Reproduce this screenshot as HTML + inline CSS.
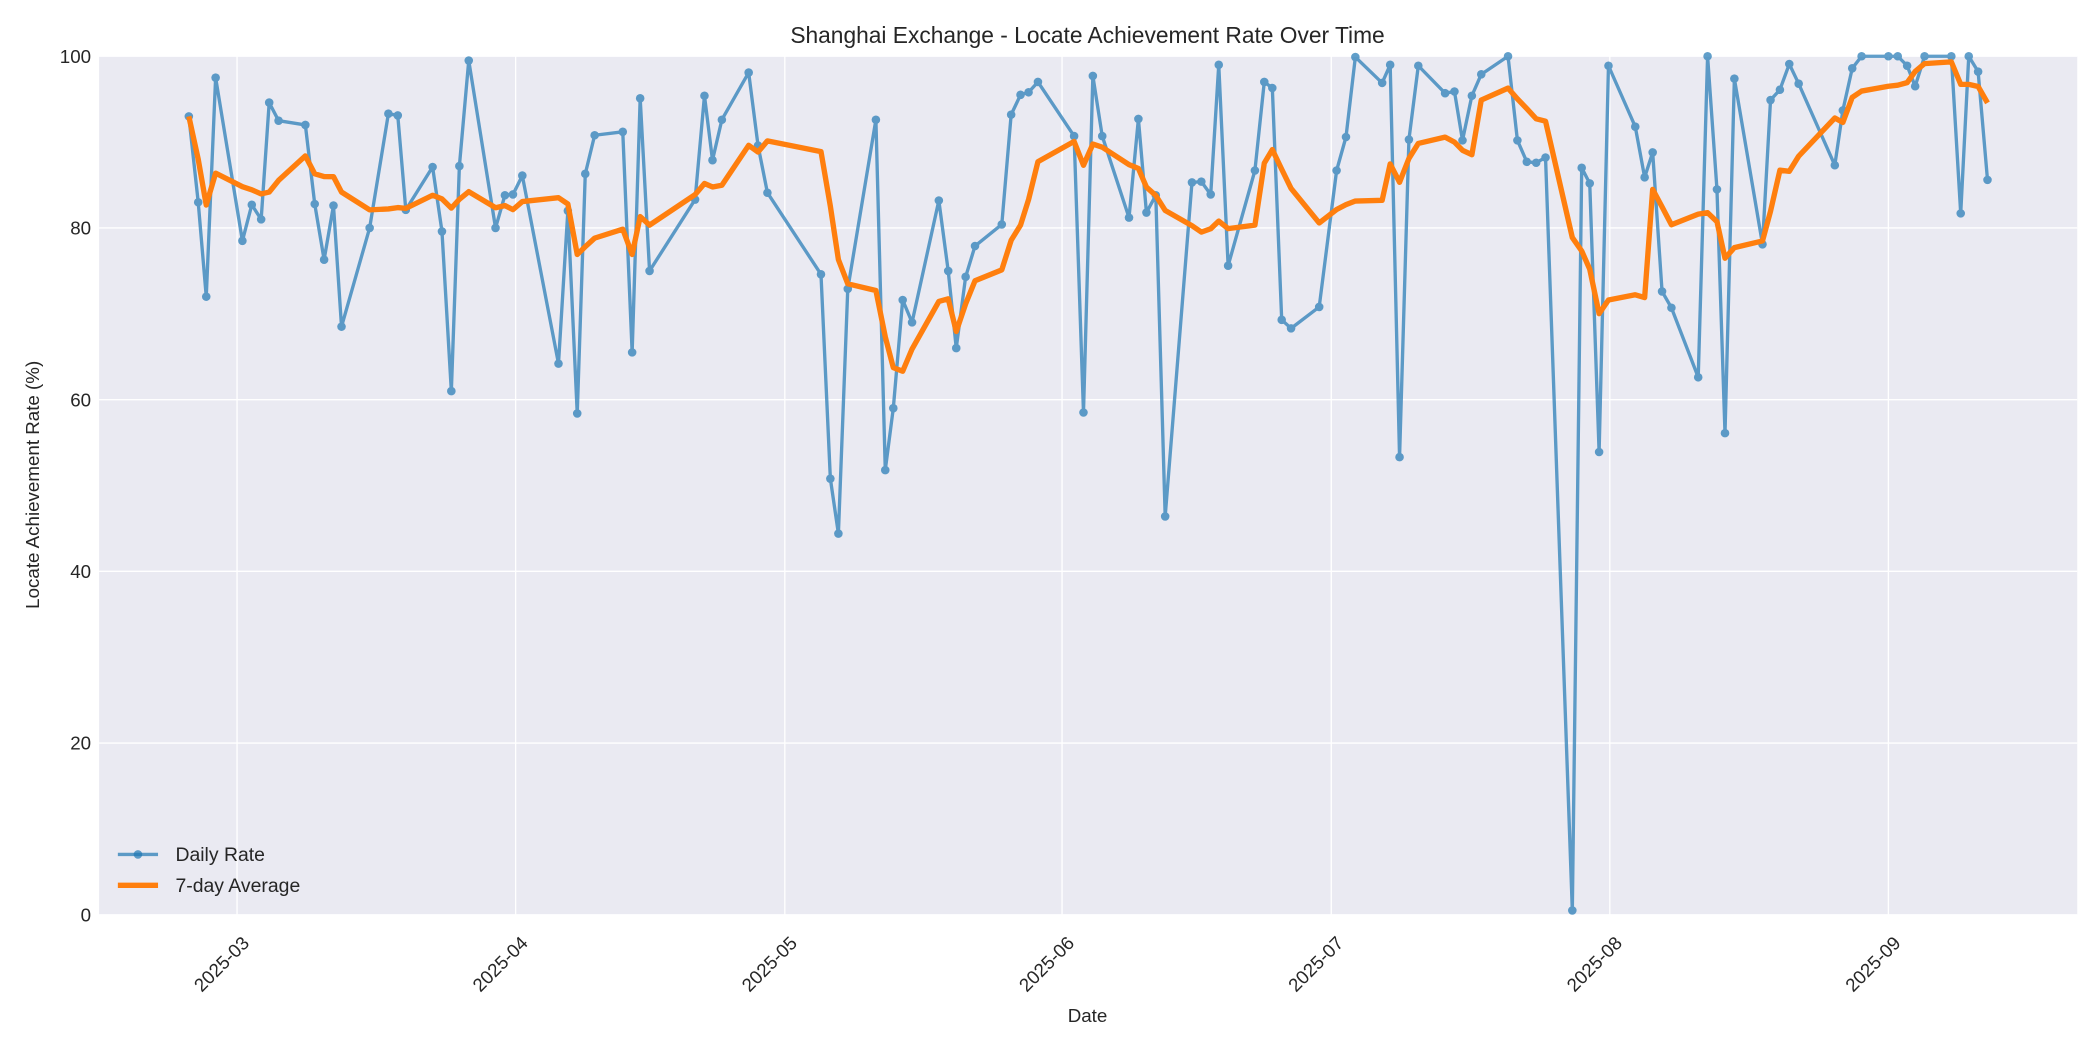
<!DOCTYPE html>
<html><head><meta charset="utf-8"><style>
html,body{margin:0;padding:0;background:#fff;}
svg{display:block;font-family:"Liberation Sans","DejaVu Sans",sans-serif;}
</style></head><body>
<svg id="s" width="2100" height="1050" viewBox="0 0 1568 784" xmlns="http://www.w3.org/2000/svg">
<rect x="0" y="0" width="1568" height="784" fill="#fff"/>
<rect x="74" y="42" width="1477" height="641" fill="#eaeaf2"/>
<g id="grid" stroke="#fff" stroke-width="1"></g>
<g id="series"></g>
<g id="labels" fill="#262626" font-size="14"></g>
<text x="812" y="32" text-anchor="middle" font-size="17" fill="#262626">Shanghai Exchange - Locate Achievement Rate Over Time</text>
<text x="812" y="763" text-anchor="middle" font-size="14" fill="#262626">Date</text>
<text x="29" y="362" text-anchor="middle" font-size="14" fill="#262626" transform="rotate(-90 29 362)">Locate Achievement Rate (%)</text>
<g font-size="14.5" fill="#262626">
<line x1="88" y1="638" x2="118" y2="638" stroke="#1f77b4" stroke-opacity="0.7" stroke-width="2.5"/>
<circle cx="103" cy="638" r="3.2" fill="#1f77b4" fill-opacity="0.7"/>
<text x="131" y="643">Daily Rate</text>
<line x1="88" y1="661" x2="118" y2="661" stroke="#ff7f0e" stroke-width="4"/>
<text x="131" y="666">7-day Average</text>
</g>
</svg>
<script>
const d=[[141,93],[148,83],[154,72],[161,97.5],[181,78.5],[188,82.7],[195,81],[201,94.6],[208,92.5],[228,92],[235,82.8],[242,76.3],[249,82.6],[255,68.5],[276,80],[290,93.3],[297,93.1],[303,82.1],[323,87.1],[330,79.6],[337,61],[343,87.2],[350,99.5],[370,80],[377,83.8],[383,83.9],[390,86.1],[417,64.2],[424,82],[431,58.4],[437,86.3],[444,90.8],[465,91.2],[472,65.5],[478,95.1],[485,75],[519,83.3],[526,95.4],[532,87.9],[539,92.6],[559,98.1],[566,89.6],[573,84.1],[613,74.6],[620,50.8],[626,44.4],[633,72.9],[654,92.6],[661,51.8],[667,59],[674,71.6],[681,69],[701,83.2],[708,75],[714,66],[721,74.3],[728,77.9],[748,80.4],[755,93.2],[762,95.5],[768,95.8],[775,97],[802,90.7],[809,58.5],[816,97.7],[823,90.7],[843,81.2],[850,92.7],[856,81.8],[863,83.8],[870,46.4],[890,85.3],[897,85.4],[904,83.9],[910,99],[917,75.6],[937,86.7],[944,97],[950,96.3],[957,69.3],[964,68.3],[985,70.8],[998,86.7],[1005,90.6],[1012,99.9],[1032,96.9],[1038,99],[1045,53.3],[1052,90.3],[1059,98.9],[1079,95.7],[1086,95.9],[1092,90.2],[1099,95.4],[1106,97.9],[1126,100],[1133,90.2],[1140,87.7],[1147,87.6],[1154,88.2],[1174,0.5],[1181,87],[1187,85.2],[1194,53.9],[1201,98.9],[1221,91.8],[1228,85.9],[1234,88.8],[1241,72.6],[1248,70.7],[1268,62.6],[1275,100],[1282,84.5],[1288,56.1],[1295,97.4],[1316,78.1],[1322,94.9],[1329,96.1],[1336,99.1],[1343,96.8],[1370,87.3],[1376,93.7],[1383,98.6],[1390,100],[1410,100],[1417,100],[1424,98.9],[1430,96.5],[1437,100],[1457,100],[1464,81.7],[1470,100],[1477,98.2],[1484,85.6]];
const Y=v=>683-v*6.41;
let g=document.getElementById('grid'),L=document.getElementById('labels'),S=document.getElementById('series');
let h='',l='';
for(let v=0;v<=100;v+=20){let y=Y(v);h+=`<line x1="74" x2="1551" y1="${y}" y2="${y}"/>`;l+=`<text x="68" y="${y+5}" text-anchor="end">${v}</text>`;}
const xs=[[177,'03'],[385,'04'],[586,'05'],[793,'06'],[994,'07'],[1202,'08'],[1410,'09']];
for(const [x,m] of xs){h+=`<line x1="${x}" x2="${x}" y1="42" y2="683"/>`;l+=`<text x="${x+10}" y="${705}" text-anchor="end" transform="rotate(-45 ${x+10} 705)">2025-${m}</text>`;}
g.innerHTML=h;L.innerHTML=l;
let p=d.map(a=>a[0]+','+Y(a[1]).toFixed(1)).join(' ');
let c=d.map(a=>`<circle cx="${a[0]}" cy="${Y(a[1]).toFixed(1)}" r="3.2"/>`).join('');
let r=d.map((a,i)=>{let s=d.slice(Math.max(0,i-6),i+1);let m=s.reduce((t,b)=>t+b[1],0)/s.length;return a[0]+','+Y(m).toFixed(1);}).join(' ');
S.innerHTML=`<g opacity="0.7"><polyline points="${p}" fill="none" stroke="#1f77b4" stroke-width="2.5" stroke-linejoin="round"/><g fill="#1f77b4">${c}</g></g><polyline points="${r}" fill="none" stroke="#ff7f0e" stroke-width="4" stroke-linejoin="round"/>`;
</script>
</body></html>
